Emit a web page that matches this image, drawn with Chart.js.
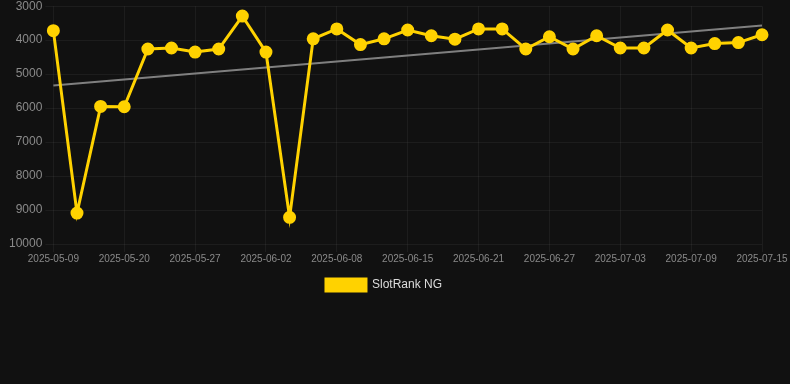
<!DOCTYPE html>
<html>
<head>
<meta charset="utf-8">
<script src="https://cdn.jsdelivr.net/npm/chart.js@4.4.0/dist/chart.umd.min.js"></script>
<style>
html, body { margin: 0; padding: 0; background: #111111; overflow: hidden; }
#wrap { width: 790px; height: 388px; margin-top: -4px; }
</style>
</head>
<body>
<div id="wrap"><canvas id="chart"></canvas></div>
<script>
const dates = [
  '2025-05-09', '2025-05-13', '2025-05-16', '2025-05-20', '2025-05-22', '2025-05-25',
  '2025-05-27', '2025-05-29', '2025-05-31', '2025-06-02', '2025-06-04', '2025-06-06',
  '2025-06-08', '2025-06-10', '2025-06-13', '2025-06-15', '2025-06-17', '2025-06-19',
  '2025-06-21', '2025-06-23', '2025-06-25', '2025-06-27', '2025-06-29', '2025-07-01',
  '2025-07-03', '2025-07-05', '2025-07-07', '2025-07-09', '2025-07-11', '2025-07-13',
  '2025-07-15'
];
const ranks = [
  3720, 9090, 5950, 5960, 4260, 4230, 4350, 4260, 3290, 4350, 9215,
  3960, 3670, 4130, 3960, 3700, 3870, 3970, 3670, 3670, 4260, 3900,
  4260, 3870, 4230, 4230, 3700, 4230, 4100, 4070, 3840
];
const seriesName = 'SlotRank NG';

// trend line (least squares on the index)
let n = ranks.length;
let sx = 0, sy = 0, sxy = 0, sxx = 0;
for (let i = 0; i < n; i++) {
  sx += i; sy += ranks[i]; sxy += i * ranks[i]; sxx += i * i;
}
let slope = (n * sxy - sx * sy) / (n * sxx - sx * sx);
let intercept = (sy - slope * sx) / n;
let trend = ranks.map((v, i) => intercept + slope * i);

new Chart(document.getElementById('chart'), {
  type: 'line',
  data: {
    labels: dates,
    datasets: [{
      label: seriesName,
      data: ranks,
      borderColor: '#FFD200',
      backgroundColor: '#FFD200',
      borderWidth: 3,
      pointRadius: 5,
      pointHoverRadius: 5,
      tension: 0
    }, {
      label: 'trend',
      data: trend,
      borderColor: 'rgba(140,140,140,0.9)',
      borderWidth: 2,
      pointRadius: 0,
      fill: false
    }]
  },
  options: {
    responsive: true,
    maintainAspectRatio: false,
    animation: false,
    layout: { padding: { left: 6, right: 28, top: 0, bottom: 83 } },
    scales: {
      x: {
        grid: { color: 'rgba(255,255,255,0.05)' },
        border: { display: false },
        ticks: {
          color: '#8a8a8a',
          padding: 1,
          font: { size: 10, family: 'Liberation Sans, Arial, sans-serif' },
          maxRotation: 0,
          autoSkip: true,
          callback: function (v, i) { return i % 3 === 0 ? dates[i] : null; }
        }
      },
      y: {
        reverse: true,
        min: 3000,
        max: 10000,
        grid: { color: 'rgba(255,255,255,0.05)' },
        border: { display: false },
        ticks: {
          stepSize: 1000,
          color: '#8a8a8a',
          font: { size: 12, family: 'Liberation Sans, Arial, sans-serif' },
          callback: v => String(v)
        }
      }
    },
    plugins: {
      legend: {
        position: 'bottom',
        labels: {
          color: '#dddddd',
          boxWidth: 40,
          boxHeight: 12,
          padding: 13,
          font: { size: 12, family: 'Liberation Sans, Arial, sans-serif' },
          filter: item => item.datasetIndex === 0
        }
      },
      tooltip: { enabled: false }
    }
  }
});
</script>
</body>
</html>
